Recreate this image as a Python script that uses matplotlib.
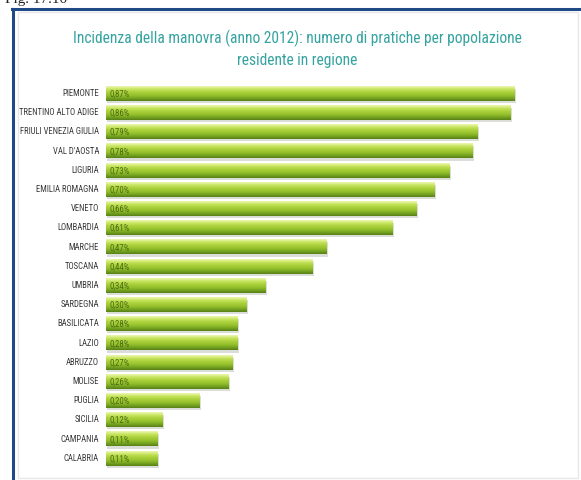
import matplotlib

matplotlib.use("Agg")

import matplotlib.pyplot as plt
import numpy as np
from matplotlib.colors import LinearSegmentedColormap
from matplotlib.lines import Line2D
from matplotlib.patches import Rectangle

regioni = [
    "PIEMONTE", "TRENTINO ALTO ADIGE", "FRIULI VENEZIA GIULIA", "VAL D'AOSTA",
    "LIGURIA", "EMILIA ROMAGNA", "VENETO", "LOMBARDIA", "MARCHE", "TOSCANA",
    "UMBRIA", "SARDEGNA", "BASILICATA", "LAZIO", "ABRUZZO", "MOLISE",
    "PUGLIA", "SICILIA", "CAMPANIA", "CALABRIA",
]
incidenza = [
    0.87, 0.86, 0.79, 0.78, 0.73, 0.70, 0.66, 0.61, 0.47, 0.44,
    0.34, 0.30, 0.28, 0.28, 0.27, 0.26, 0.20, 0.12, 0.11, 0.11,
]

W, H = 581, 480
NARROW = "Roboto Condensed"
fig = plt.figure(figsize=(W / 100, H / 100), dpi=100)
fig.patch.set_facecolor("white")

# outer frame of the figure page (blue) and faint inner chart border
fig.add_artist(Line2D([12 / W, 1.0], [1 - 8.5 / H, 1 - 8.5 / H],
                      color="#1f4a86", lw=2.2, transform=fig.transFigure))
fig.add_artist(Line2D([12.5 / W, 12.5 / W], [0, 1 - 8.5 / H],
                      color="#1f4a86", lw=2.2, transform=fig.transFigure))
fig.add_artist(Rectangle((18 / W, 2 / H), 560 / W, 466 / H, fill=False,
                         ec="#e6e8e8", lw=1.0, transform=fig.transFigure))

fig.text(5 / W, 1 - 3 / H, "Fig. 17.10", family="Liberation Serif",
         fontsize=11, color="#222222", ha="left", va="baseline")

fig.text(297 / W, 1 - 38 / H,
         "Incidenza della manovra (anno 2012): numero di pratiche per popolazione",
         family=NARROW, fontsize=11.2, color="#35a3a0", ha="center", va="center")
fig.text(297 / W, 1 - 61 / H, "residente in regione",
         family=NARROW, fontsize=11.2, color="#35a3a0", ha="center", va="center")

ax = fig.add_axes([106 / W, 12 / H, 470 / W, 384 / H])
ax.set_xlim(0, 1.0)
ax.set_ylim(len(regioni) - 0.5, -0.5)
ax.axis("off")

# vertical shading of a glossy green bar: light rim on top, dark underside
bar_cmap = LinearSegmentedColormap.from_list(
    "gloss", ["#eef8b8", "#c8e45e", "#abd23c", "#98c42e", "#7aa722", "#557f14"])
grad = np.linspace(0, 1, 64).reshape(-1, 1)
bh = 0.74

for i, (reg, v) in enumerate(zip(regioni, incidenza)):
    # soft shadow under the right and bottom edges
    ax.add_patch(Rectangle((0.003, i - bh / 2 + 0.12), v, bh, color="#bfc2b8",
                           alpha=0.55, lw=0, zorder=1))
    ax.imshow(grad, cmap=bar_cmap, aspect="auto", interpolation="bicubic",
              extent=(0, v, i + bh / 2, i - bh / 2), zorder=2)
    ax.text(0.008, i + 0.03, f"{v:.2f}%".replace(".", ","), fontsize=6.3,
            family=NARROW, color="#4a6a14", va="center", ha="left", zorder=3)
    ax.text(-0.015, i, reg, fontsize=6.2, family=NARROW,
            color="#3a3a3a", va="center", ha="right", clip_on=False)

ax.set_xlim(0, 1.0)
ax.set_ylim(len(regioni) - 0.5, -0.5)

fig.savefig("out.png", dpi=100, facecolor="white")
